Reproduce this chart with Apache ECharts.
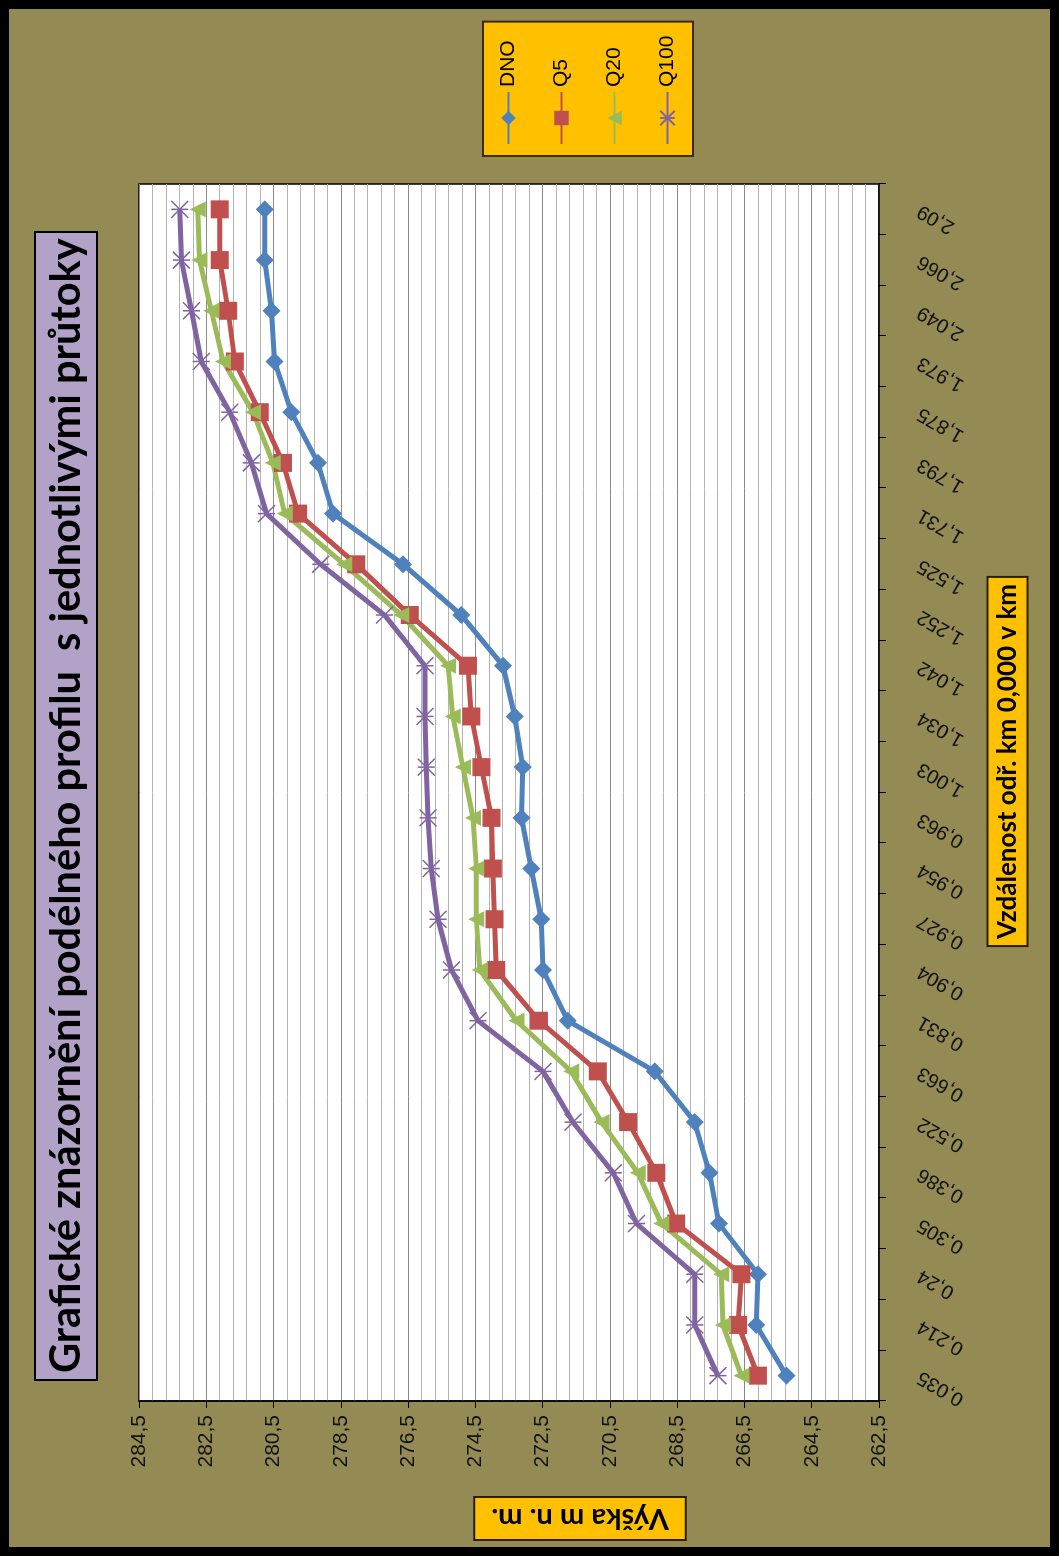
<!DOCTYPE html>
<html>
<head>
<meta charset="utf-8">
<title>Podélný profil</title>
<script src="https://cdn.jsdelivr.net/npm/echarts@6/dist/echarts.min.js"></script>
<style>
  html, body { margin: 0; padding: 0; background: #000; }
  #stage { position: relative; width: 1059px; height: 1556px; overflow: hidden; }
  /* the sheet is laid out in landscape and turned a quarter turn to stand upright */
  #chart {
    position: absolute; left: 0; top: 0;
    width: 1556px; height: 1059px;
    transform-origin: 0 0;
    transform: translate(0, 1556px) rotate(-90deg);
  }
</style>
</head>
<body>
<div id="stage"><div id="chart"></div></div>
<script>
// river kilometre of each cross-section
const categories = ['0,035', '0,214', '0,24', '0,305', '0,386', '0,522', '0,663', '0,831',
  '0,904', '0,927', '0,954', '0,963', '1,003', '1,034', '1,042', '1,252',
  '1,525', '1,731', '1,793', '1,875', '1,973', '2,049', '2,066', '2,09'];

// bed level (m n. m.)
const dno = [265.25, 266.15, 266.1, 267.26, 267.54, 267.98, 269.17, 271.75,
  272.49, 272.54, 272.84, 273.13, 273.09, 273.33, 273.68, 274.92,
  276.65, 278.73, 279.18, 279.97, 280.47, 280.56, 280.76, 280.76];

// water levels for the individual discharges
const q5 = [266.1, 266.69, 266.59, 268.53, 269.12, 269.96, 270.86, 272.61,
  273.88, 273.93, 273.98, 274.02, 274.32, 274.62, 274.72, 276.45,
  278.04, 279.77, 280.22, 280.91, 281.65, 281.85, 282.1, 282.1];

const q20 = [266.59, 267.14, 267.19, 268.97, 269.67, 270.75, 271.65, 273.28,
  274.37, 274.47, 274.47, 274.57, 274.87, 275.17, 275.31, 276.7,
  278.4, 280.17, 280.52, 281.11, 282.0, 282.35, 282.7, 282.75];

const q100 = [267.29, 267.98, 267.98, 269.71, 270.4, 271.6, 272.49, 274.42,
  275.21, 275.61, 275.81, 275.91, 275.96, 276.0, 276.0, 277.2,
  279.1, 280.71, 281.16, 281.8, 282.65, 282.94, 283.24, 283.29];

const seriesNames = ['DNO', 'Q5', 'Q20', 'Q100'];

const axisFont = 'Liberation Sans, Arial, sans-serif';
const boldFont = 'Lato, Carlito, sans-serif';

const chart = echarts.init(document.getElementById('chart'), null, { renderer: 'canvas' });

chart.setOption({
  backgroundColor: '#948A54',
  animation: false,
  title: {
    text: 'Grafické znázornění podélného profilu  s jednotlivými průtoky',
    left: 176, top: 35,
    padding: [8, 7, 6, 7],
    backgroundColor: '#B3A2C7',
    borderColor: '#000', borderWidth: 2,
    textStyle: { fontFamily: boldFont, fontWeight: 'bold', fontSize: 41.5, lineHeight: 48, color: '#000' }
  },
  legend: {
    data: seriesNames,
    orient: 'vertical',
    left: 1400, top: 483,
    padding: [15, 14, 15, 11],
    itemGap: 32,
    itemWidth: 52, itemHeight: 18,
    backgroundColor: '#FFC000',
    borderColor: '#3b2b16', borderWidth: 2,
    textStyle: { fontFamily: axisFont, fontSize: 21, color: '#000' }
  },
  grid: {
    left: 155, right: 184, top: 139, bottom: 180,
    show: true, backgroundColor: '#fff',
    borderColor: '#000', borderWidth: 1.5
  },
  xAxis: {
    type: 'category',
    data: categories,
    boundaryGap: true,
    axisLine: { lineStyle: { color: '#000', width: 1.5 } },
    axisTick: { show: true, length: 7, lineStyle: { color: '#000' } },
    axisLabel: { interval: 0, rotate: 60, margin: 40, fontFamily: axisFont, fontSize: 20, color: '#111' },
    splitLine: { show: false }
  },
  yAxis: {
    type: 'value',
    min: 262.5, max: 284.5, interval: 2,
    axisLine: { show: true, lineStyle: { color: '#000', width: 1.5 } },
    axisTick: { show: true, length: 7, lineStyle: { color: '#000' } },
    axisLabel: {
      margin: 14, fontFamily: axisFont, fontSize: 21, color: '#111',
      formatter: v => v.toFixed(1).replace('.', ',')
    },
    splitLine: { show: true, lineStyle: { color: '#8a8a8a', width: 1 } },
    minorTick: { show: false, splitNumber: 5 },
    minorSplitLine: { show: true, lineStyle: { color: '#b3b3b3', width: 1 } }
  },
  series: [
    {
      name: 'DNO', type: 'line', data: dno,
      symbol: 'diamond', symbolSize: 18,
      lineStyle: { width: 5, color: '#4F81BD' },
      itemStyle: { color: '#4F81BD' }
    },
    {
      name: 'Q5', type: 'line', data: q5,
      symbol: 'rect', symbolSize: 18,
      lineStyle: { width: 5, color: '#C0504D' },
      itemStyle: { color: '#C0504D' }
    },
    {
      name: 'Q20', type: 'line', data: q20,
      symbol: 'triangle', symbolSize: 16,
      lineStyle: { width: 5, color: '#9BBB59' },
      itemStyle: { color: '#9BBB59' }
    },
    {
      name: 'Q100', type: 'line', data: q100,
      symbol: 'path://M0,0L10,10M10,0L0,10M5,0L5,10', symbolSize: 17,
      lineStyle: { width: 5, color: '#8064A2' },
      itemStyle: { color: 'rgba(0,0,0,0)', borderColor: '#8064A2', borderWidth: 1.5 }
    }
  ],
  graphic: [
    {
      type: 'text', x: 37.5, y: 580, rotation: Math.PI / 2, silent: true,
      style: {
        text: 'Výška m n. m.', fontFamily: boldFont, fontWeight: 'bold', fontSize: 29,
        fill: '#000', align: 'center', verticalAlign: 'middle',
        backgroundColor: '#FFC000', borderColor: '#2b1d0e', borderWidth: 2, padding: [6, 16]
      }
    },
    {
      type: 'text', x: 794.5, y: 1007.5, silent: true,
      style: {
        text: 'Vzdálenost odř. km 0,000 v km', fontFamily: boldFont, fontWeight: 'bold', fontSize: 26,
        fill: '#000', align: 'center', verticalAlign: 'middle',
        backgroundColor: '#FFC000', borderColor: '#2b1d0e', borderWidth: 2, padding: [6, 6]
      }
    },
    {
      type: 'rect', silent: true, z: 100,
      shape: { x: 0, y: 0, width: 1556, height: 1059 },
      style: { fill: 'none', stroke: '#000', lineWidth: 18 }
    }
  ]
});
</script>
</body>
</html>
